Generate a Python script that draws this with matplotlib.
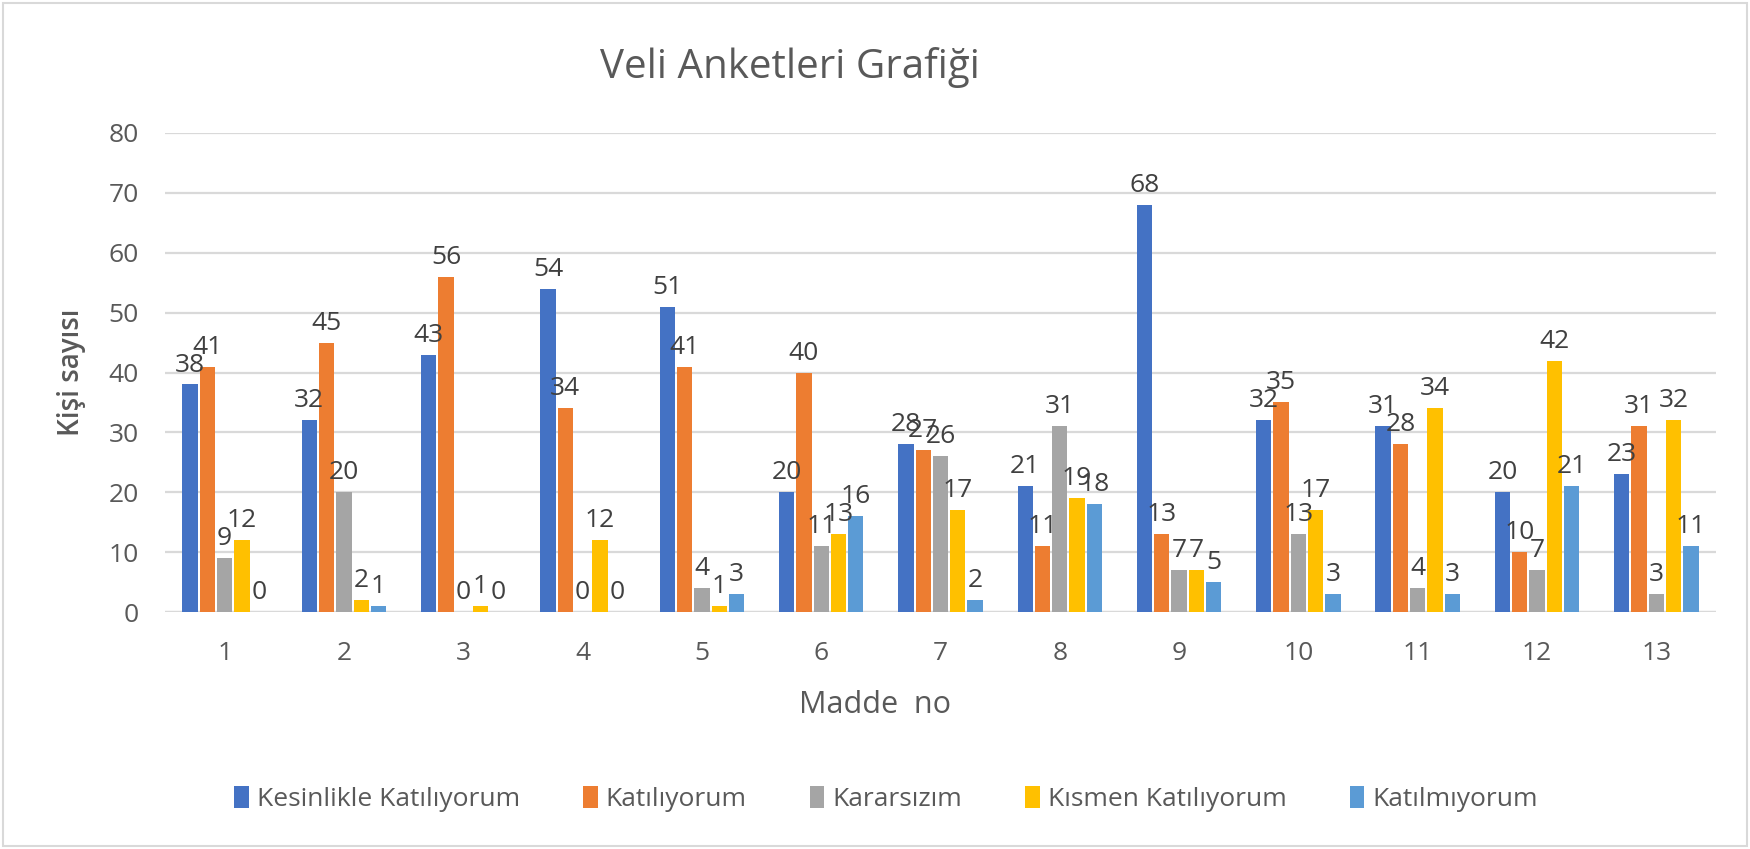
import matplotlib
matplotlib.use("Agg")
import matplotlib.pyplot as plt
import numpy as np
from matplotlib.patches import Rectangle

plt.rcParams['font.family'] = ['Open Sans', 'DejaVu Sans']

categories = ["1", "2", "3", "4", "5", "6", "7", "8", "9", "10", "11", "12", "13"]
series_names = ["Kesinlikle Katılıyorum", "Katılıyorum", "Kararsızım", "Kısmen Katılıyorum", "Katılmıyorum"]
kesinlikle = [38, 32, 43, 54, 51, 20, 28, 21, 68, 32, 31, 20, 23]
katiliyorum = [41, 45, 56, 34, 41, 40, 27, 11, 13, 35, 28, 10, 31]
kararsizim = [9, 20, 0, 0, 4, 11, 26, 31, 7, 13, 4, 7, 3]
kismen = [12, 2, 1, 12, 1, 13, 17, 19, 7, 17, 34, 42, 32]
katilmiyorum = [0, 1, 0, 0, 3, 16, 2, 18, 5, 3, 3, 21, 11]
y_ticks = [0, 10, 20, 30, 40, 50, 60, 70, 80]

series = [kesinlikle, katiliyorum, kararsizim, kismen, katilmiyorum]
colors = ["#4472C4", "#ED7D31", "#A5A5A5", "#FFC000", "#5B9BD5"]

W, H = 1750, 849
fig = plt.figure(figsize=(W / 100, H / 100), dpi=100)
ax = fig.add_axes([165 / W, 1 - 612 / H, (1716 - 165) / W, (612 - 133) / H])

x = np.arange(len(categories))
slot = 0.145
bw = 0.128
label_color = "#404040"
for i, (vals, c, name) in enumerate(zip(series, colors, series_names)):
    offs = (i - 2) * slot
    bars = ax.bar(x + offs, vals, width=bw, color=c, label=name, zorder=3)
    ax.bar_label(bars, labels=[str(v) for v in vals], padding=5,
                 fontsize=19, color=label_color, zorder=4)

ax.set_xlim(-0.5, len(categories) - 0.5)
ax.set_ylim(0, 80)
ax.set_yticks(y_ticks)
ax.set_xticks(x)
ax.set_xticklabels(categories)
ax.yaxis.grid(True, color="#D9D9D9", linewidth=1.6, zorder=0)
ax.set_axisbelow(True)
for s in ax.spines.values():
    s.set_visible(False)
ax.tick_params(axis="both", length=0, labelsize=19, labelcolor="#595959")
ax.tick_params(axis="x", pad=21)
ax.tick_params(axis="y", pad=19)
ax.axhline(0, color="#D9D9D9", linewidth=1.6, zorder=2)

fig.text(875 / W, 1 - 705 / H, "Madde  no", ha="center", va="center",
         fontsize=22, color="#595959")
fig.text(72 / W, 1 - 372 / H, "Kişi sayısı", ha="center", va="center", rotation=90,
         fontsize=20, fontweight="semibold", color="#595959")

fig.text(790 / W, 1 - 67 / H, "Veli Anketleri Grafiği", ha="center", va="center",
         fontsize=29, color="#595959")

fig.legend(loc="center", bbox_to_anchor=(886 / W, 1 - 799 / H), ncol=5,
           frameon=False, fontsize=19, labelcolor="#595959",
           handlelength=0.55, handleheight=0.9, handletextpad=0.3, columnspacing=2.4)

fig.patches.append(Rectangle((3 / W, 3 / H), 1 - 6 / W, 1 - 6 / H, transform=fig.transFigure,
                             fill=False, edgecolor="#D9D9D9", linewidth=1.5))

fig.savefig("out.png", dpi=100, facecolor="white")
